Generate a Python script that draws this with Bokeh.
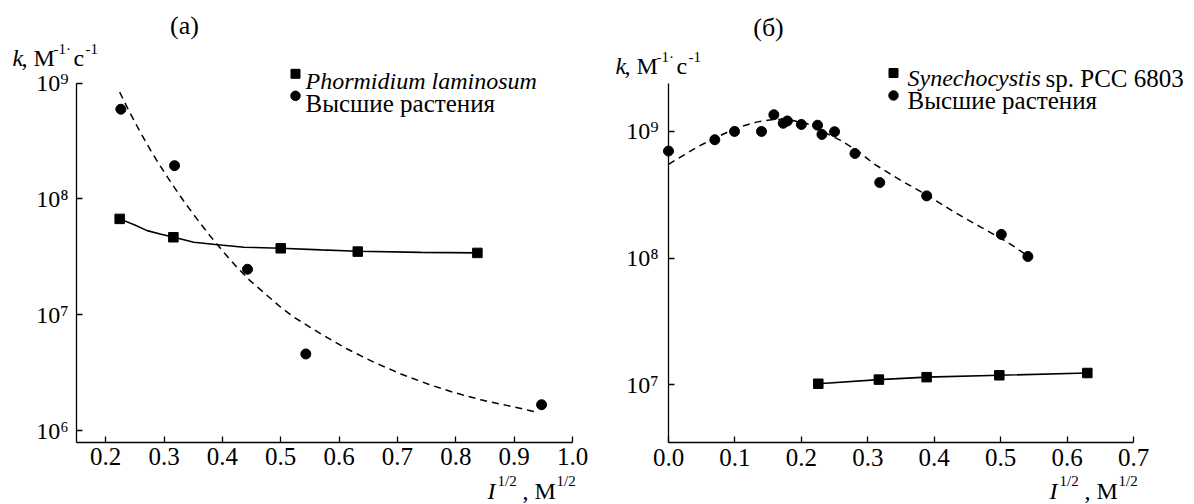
from bokeh.plotting import figure
from bokeh.layouts import row
from bokeh.models import Range1d, FixedTicker, PrintfTickFormatter, CustomJSTickFormatter, Label
from bokeh.embed import file_html
from bokeh.resources import INLINE

# ---------------- Panel (а): Phormidium laminosum vs. higher plants ----------------
a_sq_x = [0.224, 0.316, 0.500, 0.632, 0.837]
a_sq_k = [6.73e7, 4.67e7, 3.75e7, 3.51e7, 3.42e7]
a_ci_x = [0.226, 0.318, 0.443, 0.543, 0.947]
a_ci_k = [5.96e8, 1.94e8, 2.47e7, 4.58e6, 1.67e6]
a_fit_sq_x = [0.224, 0.250, 0.271, 0.295, 0.317, 0.351, 0.388, 0.437, 0.500, 0.569, 0.632, 0.740, 0.837]
a_fit_sq_k = [6.73e7, 5.95e7, 5.33e7, 4.95e7, 4.67e7, 4.23e7, 4.04e7, 3.83e7, 3.75e7, 3.63e7, 3.53e7, 3.46e7, 3.42e7]
a_fit_ci_x = [0.224, 0.240, 0.260, 0.277, 0.294, 0.311, 0.334, 0.356, 0.379, 0.403, 0.426, 0.446,
              0.500, 0.523, 0.569, 0.614, 0.660, 0.706, 0.752, 0.797, 0.843, 0.889, 0.934]
a_fit_ci_k = [8.36e8, 5.75e8, 3.72e8, 2.63e8, 1.91e8, 1.41e8, 9.55e7, 6.76e7, 4.79e7, 3.43e7, 2.54e7, 2.00e7,
              1.16e7, 9.50e6, 6.82e6, 5.06e6, 3.88e6, 3.08e6, 2.52e6, 2.13e6, 1.84e6, 1.64e6, 1.46e6]
a_xticks = [0.2, 0.3, 0.4, 0.5, 0.6, 0.7, 0.8, 0.9, 1.0]
a_yticks = [1e6, 1e7, 1e8, 1e9]
a_xlim = (0.15, 1.0)
a_ylim = (10 ** 5.899, 1e9)

# ---------------- Panel (б): Synechocystis sp. PCC 6803 vs. higher plants ----------------
b_sq_x = [0.2255, 0.3167, 0.3886, 0.498, 0.6305]
b_sq_k = [1.02e7, 1.10e7, 1.15e7, 1.19e7, 1.24e7]
b_ci_x = [0.0, 0.0697, 0.0994, 0.140, 0.1586, 0.1727, 0.179, 0.200, 0.2244, 0.231, 0.250,
          0.2807, 0.318, 0.3886, 0.501, 0.541]
b_ci_k = [7.0e8, 8.6e8, 1.0e9, 1.0e9, 1.355e9, 1.16e9, 1.21e9, 1.135e9, 1.12e9, 9.47e8, 9.95e8,
          6.7e8, 3.95e8, 3.1e8, 1.54e8, 1.03e8]
b_fit_ci_x = [0.0, 0.018, 0.043, 0.073, 0.103, 0.134, 0.159, 0.184, 0.209, 0.234, 0.259, 0.284,
              0.309, 0.350, 0.390, 0.430, 0.470, 0.510, 0.540]
b_fit_ci_k = [5.5e8, 6.27e8, 7.52e8, 9.02e8, 1.07e9, 1.19e9, 1.245e9, 1.23e9, 1.15e9, 9.89e8, 8.49e8, 7.08e8,
              5.56e8, 4.1e8, 3.13e8, 2.31e8, 1.76e8, 1.34e8, 1.05e8]
b_xticks = [0.0, 0.1, 0.2, 0.3, 0.4, 0.5, 0.6, 0.7]
b_yticks = [1e7, 1e8, 1e9]
b_xlim = (0.0, 0.7)
b_ylim = (10 ** 6.545, 10 ** 9.376)

legend_a = ["Phormidium laminosum", "Высшие растения"]
legend_b = ["Synechocystis", "sp. PCC 6803", "Высшие растения"]

FONT = "Liberation Serif"
H = 504
SUP_JS = """
const sup = {6: "\\u2076", 7: "\\u2077", 8: "\\u2078", 9: "\\u2079"};
const e = Math.round(Math.log10(tick));
return "10" + sup[e];
"""


class Panel:
    """A figure whose frame fills the canvas; the plotting box is placed by pixel geometry."""

    def __init__(self, left, width, box_l, box_r, box_t, box_b, xlim, ylim, xticks, yticks, ystandoff):
        import math
        self.left = left
        kx = (box_r - box_l) / (xlim[1] - xlim[0])
        lo, hi = math.log10(ylim[0]), math.log10(ylim[1])
        ky = (box_b - box_t) / (hi - lo)
        self.kx, self.ky = kx, ky
        x0 = xlim[0] - (box_l - left) / kx
        x1 = xlim[1] + (left + width - box_r) / kx
        ytop = hi + box_t / ky
        ybot = lo - (H - box_b) / ky
        self.x0, self.ytop = x0, ytop
        p = figure(width=width, height=H, x_range=Range1d(x0, x1), y_range=Range1d(10 ** ybot, 10 ** ytop),
                   y_axis_type="log", output_backend="svg", toolbar_location=None,
                   min_border_left=0, min_border_right=0, min_border_top=0, min_border_bottom=0)
        p.grid.visible = False
        p.outline_line_color = None
        p.background_fill_color = "white"
        p.border_fill_color = "white"
        xa, ya = p.xaxis[0], p.yaxis[0]
        xa.fixed_location = ylim[0]
        xa.bounds = xlim
        ya.fixed_location = xlim[0]
        ya.bounds = ylim
        for ax in (xa, ya):
            ax.axis_line_color = "black"
            ax.axis_line_width = 1.3
            ax.major_tick_line_color = "black"
            ax.major_tick_line_width = 1.3
            ax.major_tick_in = 6
            ax.major_tick_out = 0
            ax.minor_tick_line_color = None
            ax.major_label_text_font = FONT
            ax.major_label_text_color = "black"
        xa.ticker = FixedTicker(ticks=xticks)
        xa.formatter = PrintfTickFormatter(format="%.1f")
        xa.major_label_text_font_size = "25px"
        xa.major_label_standoff = 6
        ya.ticker = FixedTicker(ticks=yticks)
        ya.formatter = CustomJSTickFormatter(code=SUP_JS)
        ya.major_label_text_font_size = "24px"
        ya.major_label_standoff = ystandoff
        self.p = p

    def data(self, X, Y):
        return self.x0 + (X - self.left) / self.kx, 10 ** (self.ytop - Y / self.ky)

    def lab(self, X, Y, text, size, style="normal", align="left", baseline="alphabetic", font=FONT):
        self.p.add_layout(Label(x=X - self.left, y=H - Y, x_units="screen", y_units="screen", text=text,
                                text_font=font, text_font_size=size, text_font_style=style,
                                text_align=align, text_baseline=baseline, text_color="black"))

    def key(self, X, Y, marker, size):
        x, y = self.data(X, Y)
        self.p.scatter([x], [y], marker=marker, size=size, fill_color="black", line_color="black")

    def texts(self, dx, dy_k, dx_i, title, title_xy):
        self.lab(title_xy[0], title_xy[1], title, "26px", align="center", baseline="middle")
        by = 57 + dy_k
        self.lab(12 + dx, by, "k", "24px", style="italic")
        self.lab(21 + dx, by, ", M", "24px")
        self.lab(53 + dx, by - 9, "-1\u00b7", "15px")
        self.lab(73 + dx, by, "c", "24px")
        self.lab(85 + dx, by - 9, "-1", "15px")
        bx = 490
        self.lab(487 + dx_i, bx, "I", "24px", style="italic")
        self.lab(497 + dx_i, bx - 10, "1/2", "15px")
        self.lab(522 + dx_i, bx, ", M", "24px")
        self.lab(556 + dx_i, bx - 10, "1/2", "15px")


# ---------- left panel ----------
A = Panel(0, 598, 76, 572, 82.7, 441.7, a_xlim, a_ylim, a_xticks, a_yticks, 8)
pa = A.p
pa.line(a_fit_sq_x, a_fit_sq_k, line_color="black", line_width=1.6)
pa.line(a_fit_ci_x, a_fit_ci_k, line_color="black", line_width=1.5, line_dash="7 5")
pa.scatter(a_sq_x, a_sq_k, marker="square", size=9.5, fill_color="black", line_color="black")
pa.scatter(a_ci_x, a_ci_k, marker="circle", size=10, fill_color="black", line_color="black")
A.texts(0, 0, 0, "(\u0430)", (184, 25))
A.key(295, 73.3, "square", 9)
A.key(295, 95.3, "circle", 9.5)
A.lab(305, 80.7, legend_a[0], "24px", style="italic")
A.lab(305, 103, legend_a[1], "25px")

# ---------- right panel ----------
B = Panel(598, 596, 668, 1133, 83.3, 442, b_xlim, b_ylim, b_xticks, b_yticks, 10)
pb = B.p
pb.line(b_sq_x, b_sq_k, line_color="black", line_width=1.6)
pb.line(b_fit_ci_x, b_fit_ci_k, line_color="black", line_width=1.5, line_dash="7 5")
pb.scatter(b_sq_x, b_sq_k, marker="square", size=9.5, fill_color="black", line_color="black")
pb.scatter(b_ci_x, b_ci_k, marker="circle", size=10, fill_color="black", line_color="black")
B.texts(603, 8.3, 562, "(\u0431)", (768, 27))
B.key(893, 72.5, "square", 9)
B.key(893, 95, "circle", 9.5)
B.lab(907, 77.5, legend_b[0], "24px", style="italic")
B.lab(1045, 77.5, legend_b[1], "25px")
B.lab(907, 100, legend_b[2], "25px")

layout = row(pa, pb)
open("out.html", "w", encoding="utf-8").write(file_html(layout, INLINE))
